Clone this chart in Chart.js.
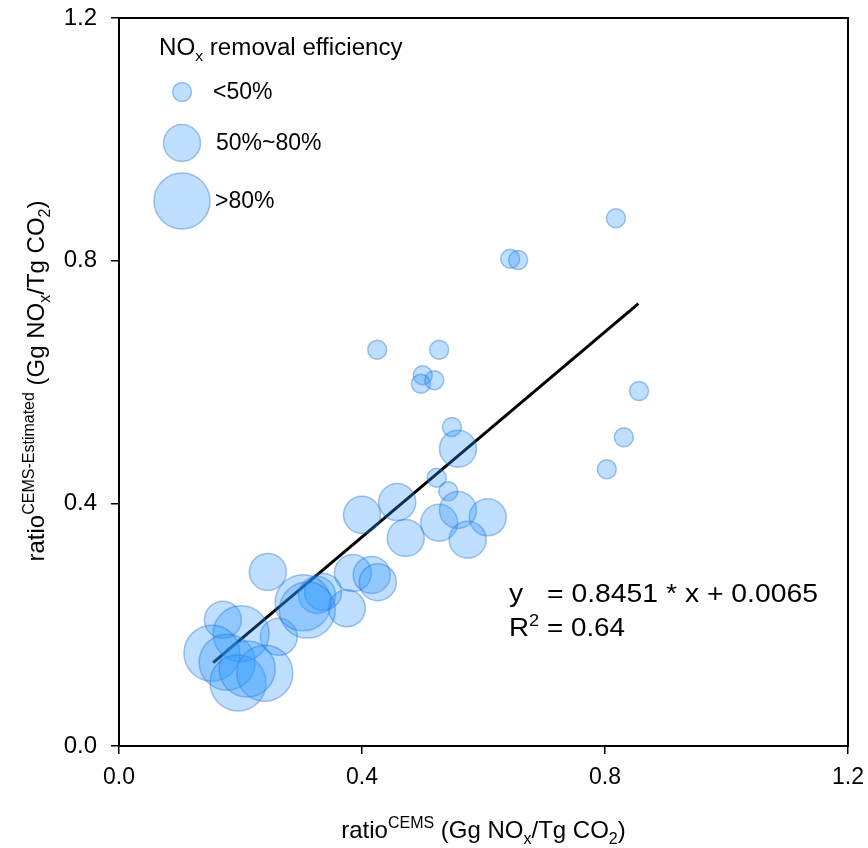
<!DOCTYPE html>
<html>
<head>
<meta charset="utf-8">
<script src="https://cdn.jsdelivr.net/npm/chart.js@4"></script>
<style>
  body { margin: 0; background: #fff; }
  #wrap { width: 868px; height: 848px; }
</style>
</head>
<body>
<div id="wrap"><canvas id="myChart" width="868" height="848"></canvas></div>
<script>
// ratio from CEMS (x) vs. estimated ratio (y), Gg NOx / Tg CO2
const ratioCems = [
    0.818, 0.644, 0.657, 0.425, 0.527, 0.500, 0.497, 0.519, 0.856, 0.831, 0.803, 0.548, 0.523, 0.542,
    0.558, 0.458, 0.400, 0.472, 0.527, 0.558, 0.607, 0.574, 0.245, 0.385, 0.416, 0.426, 0.375, 0.326, 0.336, 0.171, 0.263,
    0.303, 0.310, 0.201, 0.153, 0.178, 0.196, 0.240, 0.211
];
const ratioEst = [
    0.870, 0.803, 0.801, 0.653, 0.653, 0.611, 0.597, 0.603, 0.585, 0.509, 0.456, 0.526, 0.442, 0.420,
    0.490, 0.402, 0.381, 0.343, 0.368, 0.389, 0.377, 0.340, 0.287, 0.285, 0.282, 0.270, 0.227, 0.249, 0.254, 0.208, 0.180,
    0.236, 0.224, 0.185, 0.153, 0.138, 0.104, 0.120, 0.127
];
// 0: <50%, 1: 50%~80%, 2: >80%
const effClass = [
    0, 0, 0, 0, 0, 0, 0, 0, 0, 0, 0, 0, 0, 0,
    1, 1, 1, 1, 1, 1, 1, 1, 1, 1, 1, 1, 1, 1, 1, 1, 1,
    2, 2, 2, 2, 2, 2, 2, 2
];
const effLabels = ["<50%", "50%~80%", ">80%"];
const tickValues = [0.0, 0.4, 0.8, 1.2];

// fit line
const slope = 0.8451;
const intercept = 0.0065;
const fitRange = [0.155, 0.855];
const rSquared = 0.64;

const charter = document.querySelector("#myChart");
const radios = [9.5, 18.5, 28];
const fillColor = "rgba(40, 150, 255, 0.3)";
const edgeColor = "rgba(40, 110, 200, 0.4)";
const fontSans = "'Liberation Sans', Arial, sans-serif";

const bubbles = ratioCems.map((x, i) => ({ x: x, y: ratioEst[i], r: radios[effClass[i]] }));
const fitLine = fitRange.map((x) => ({ x: x, y: slope * x + intercept }));

// writes text made of pieces: [text, "n" | "sup" | "sub"], stretch = horizontal factor
const drawRich = (ctx, parts, x, y, size, align, stretch = 1) => {
    ctx.save();
    ctx.textBaseline = "alphabetic";
    ctx.textAlign = "left";
    const small = Math.round(size * 0.65);
    let total = 0;
    parts.forEach(([t, m]) => {
        ctx.font = `${m === "n" ? size : small}px ${fontSans}`;
        total += ctx.measureText(t).width;
    });
    ctx.translate(x, y);
    ctx.scale(stretch, 1);
    let cx = align === "center" ? -total / 2 : 0;
    parts.forEach(([t, m]) => {
        ctx.font = `${m === "n" ? size : small}px ${fontSans}`;
        let dy = 0;
        if (m === "sup") dy = -size * 0.4;
        if (m === "sub") dy = size * 0.25;
        ctx.fillText(t, cx, dy);
        cx += ctx.measureText(t).width;
    });
    ctx.restore();
};

const decoraciones = {
    id: "decoraciones",
    afterDraw(chart) {
        const ctx = chart.ctx;
        const a = chart.chartArea;
        ctx.save();
        ctx.fillStyle = "#000";

        // box
        ctx.strokeStyle = "#000";
        ctx.lineWidth = 2;
        ctx.strokeRect(a.left, a.top, a.right - a.left, a.bottom - a.top);

        // axis titles
        drawRich(ctx, [["ratio", "n"], ["CEMS", "sup"], [" (Gg NO", "n"], ["x", "sub"], ["/Tg CO", "n"], ["2", "sub"], [")", "n"]],
            (a.left + a.right) / 2, 838, 24, "center");
        ctx.save();
        ctx.translate(44, 381);
        ctx.rotate(-Math.PI / 2);
        drawRich(ctx, [["ratio", "n"], ["CEMS-Estimated", "sup"], [" (Gg NO", "n"], ["x", "sub"], ["/Tg CO", "n"], ["2", "sub"], [")", "n"]],
            0, 0, 24, "center");
        ctx.restore();

        // legend
        drawRich(ctx, [["NO", "n"], ["x", "sub"], [" removal efficiency", "n"]], 159, 55, 23, "left", 1.05);
        const legY = [92, 143, 201];
        const legTx = [213, 216, 215];
        effLabels.forEach((lab, i) => {
            ctx.beginPath();
            ctx.arc(182, legY[i], radios[i], 0, Math.PI * 2);
            ctx.fillStyle = fillColor;
            ctx.fill();
            ctx.lineWidth = 1.5;
            ctx.strokeStyle = edgeColor;
            ctx.stroke();
            ctx.fillStyle = "#000";
            ctx.font = `23px ${fontSans}`;
            ctx.textBaseline = "alphabetic";
            ctx.fillText(lab, legTx[i], legY[i] + 7);
        });

        // equation
        drawRich(ctx, [["y", "n"]], 509, 602, 26, "left", 1.09);
        drawRich(ctx, [[`= ${slope} * x + ${intercept.toFixed(4)}`, "n"]], 547, 602, 26, "left", 1.09);
        drawRich(ctx, [["R", "n"], ["2", "sup"], [` = ${rSquared}`, "n"]], 509, 636, 26, "left", 1.07);
        ctx.restore();
    }
};

const config = {
    data: {
        datasets: [
            {
                type: "bubble",
                data: bubbles,
                backgroundColor: fillColor,
                borderColor: edgeColor,
                borderWidth: 1.5,
                hoverRadius: 0,
            },
            {
                type: "line",
                data: fitLine,
                borderColor: "#000",
                borderWidth: 3,
                pointRadius: 0,
                fill: false,
            },
        ],
    },
    options: {
        responsive: false,
        animation: false,
        events: [],
        layout: { autoPadding: false, padding: { top: 18, right: 20, left: 0, bottom: 0 } },
        plugins: { legend: { display: false }, tooltip: { enabled: false } },
        scales: {
            x: {
                type: "linear",
                min: 0,
                max: 1.2,
                afterBuildTicks: (scale) => { scale.ticks = tickValues.map((v) => ({ value: v })); },
                afterFit: (scale) => {
                    scale.height = 102;
                    scale.paddingLeft = 0;
                    scale.paddingRight = 0;
                },
                grid: { drawOnChartArea: false, drawTicks: true, tickLength: 8, color: "#000", lineWidth: 1.5 },
                border: { display: true, color: "#000", width: 2 },
                ticks: {
                    color: "#000",
                    padding: 10,
                    font: { family: fontSans, size: 23 },
                    callback: (v) => Number(v).toFixed(1),
                },
            },
            y: {
                type: "linear",
                min: 0,
                max: 1.2,
                afterBuildTicks: (scale) => { scale.ticks = tickValues.map((v) => ({ value: v })); },
                afterFit: (scale) => {
                    scale.width = 119;
                    scale.paddingTop = 0;
                    scale.paddingBottom = 0;
                },
                grid: { drawOnChartArea: false, drawTicks: true, tickLength: 8, color: "#000", lineWidth: 1.5 },
                border: { display: true, color: "#000", width: 2 },
                ticks: {
                    color: "#000",
                    padding: 14,
                    font: { family: fontSans, size: 24 },
                    callback: (v) => Number(v).toFixed(1),
                },
            },
        },
    },
    plugins: [decoraciones],
};

new Chart(charter, config);
</script>
</body>
</html>
